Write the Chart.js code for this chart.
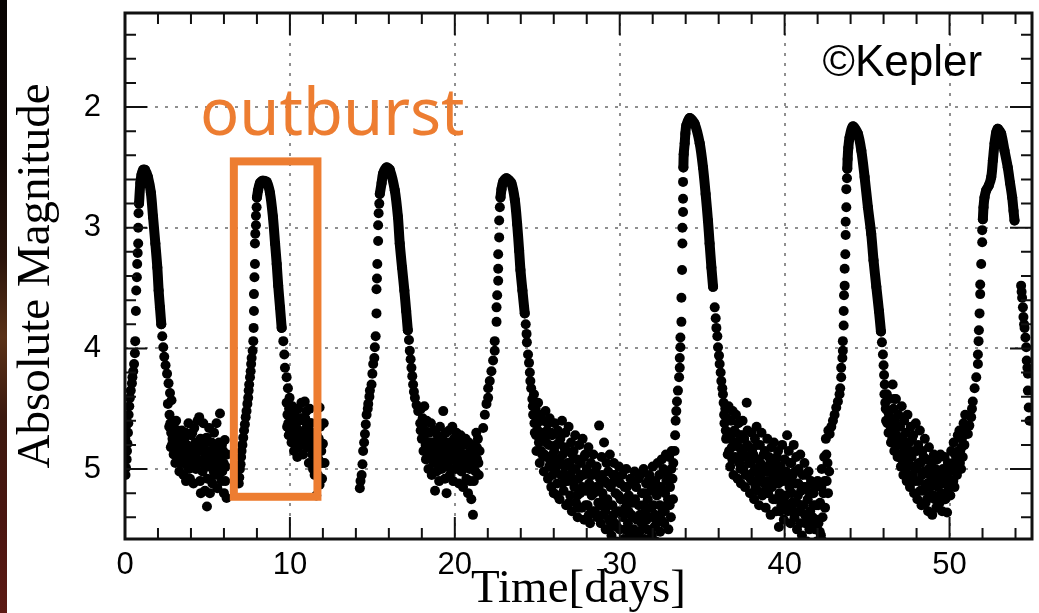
<!DOCTYPE html>
<html><head><meta charset="utf-8">
<script src="https://cdn.jsdelivr.net/npm/chart.js@4.4.1/dist/chart.umd.min.js"></script>
<style>
html,body{margin:0;padding:0;background:#fff;overflow:hidden}
#wrap{position:relative;width:1039px;height:613px;background:#fff}
canvas{position:absolute;left:0;top:0}
#strip{position:absolute;left:0;top:0;width:7px;height:613px;
background:linear-gradient(to bottom,#070302 0%,#120805 25%,#2a140b 42%,#5a3218 55%,#3c1a10 68%,#4a1510 85%,#5c1a14 100%)}
</style></head><body>
<div id="wrap"><canvas id="c" width="1039" height="613"></canvas><div id="strip"></div></div>
<script>
// ---- axis ticks ----
const xTickValues = [0, 10, 20, 30, 40, 50];
const yTickValues = [2, 3, 4, 5];

// ---- outburst 1 ----
const rise1 = [[0.02,4.75],[0.03,5.05],[0.05,4.65],[0.06,4.99],[0.1,4.92],[0.12,4.85],[0.15,4.79],[0.18,4.7],[0.2,4.62],[0.22,4.55],[0.26,4.48],[0.3,4.41],[0.35,4.35],[0.42,4.29],[0.45,4.24],[0.5,4.19],[0.55,4.13],[0.6,4.04],[0.62,3.94],[0.66,3.69],[0.68,3.52],[0.72,3.41],[0.74,3.30],[0.77,3.21],[0.8,3.13],[0.8,3.0],[0.82,2.88]];
const crest1 = [[0.85,2.8],[0.93,2.63],[1.0,2.56],[1.1,2.52],[1.21,2.52],[1.39,2.58],[1.57,2.71],[1.7,2.91],[1.84,3.13],[1.96,3.33],[2.04,3.52],[2.12,3.66],[2.2,3.8]];
const fall1 = [[2.26,3.9],[2.32,3.99],[2.38,4.07],[2.46,4.14],[2.55,4.21],[2.64,4.29],[2.73,4.37],[2.82,4.43]];
const quiet1 = [[2.6,4.46],[2.7,4.55],[2.75,4.62],[2.8,4.7],[2.85,4.8],[2.9,4.66],[2.95,4.88],[3.0,4.75],[3.05,4.95],[3.1,4.6],[3.15,4.82],[3.2,4.9],[3.25,4.7],[3.3,5.02],[3.35,4.78],[3.4,4.95],[3.45,4.68],[3.5,4.85],[3.55,5.05],[3.6,4.75],[3.65,4.92],[3.7,5.1],[3.75,4.8],[3.8,4.98],[3.85,4.62],[3.9,4.86],[3.94,5.08],[4.0,4.72],[4.05,4.95],[4.1,4.82],[4.15,5.12],[4.2,4.66],[4.25,4.9],[4.3,5.0],[4.4,4.6],[4.45,4.78],[4.5,4.57],[4.55,5.1],[4.6,5.2],[4.65,4.85],[4.7,5.02],[4.75,4.62],[4.8,4.8],[4.85,5.18],[4.9,4.95],[4.95,4.74],[4.97,5.31],[5.0,5.08],[5.05,4.86],[5.1,4.66],[5.15,5.2],[5.2,4.98],[5.25,4.78],[5.3,5.12],[5.35,4.9],[5.4,4.7],[5.45,5.05],[5.5,4.84],[5.55,4.62],[5.6,5.16],[5.65,4.95],[5.7,4.78],[5.76,4.54],[5.8,4.9],[5.85,5.1],[5.9,5.02],[5.95,4.85],[6.0,5.2],[6.05,4.76],[6.1,4.98],[6.16,5.24],[6.2,4.88]];
const quiet1b = [[2.68,4.65],[2.78,4.82],[2.88,4.75],[2.98,4.62],[3.08,4.72],[3.18,4.68],[3.28,4.85],[3.38,4.7],[3.48,4.95],[3.58,4.88],[3.68,4.7],[3.78,4.9],[3.88,5.0],[3.98,4.85],[4.08,4.7],[4.18,4.98],[4.28,4.78],[4.38,4.92],[4.48,4.85],[4.58,4.75],[4.68,4.95],[4.78,4.92],[4.88,4.88],[4.98,4.98],[5.08,4.9],[5.18,4.85],[5.28,4.95],[5.38,5.02],[5.48,4.95],[5.58,4.85],[5.68,5.05],[5.78,4.98],[5.88,4.8],[5.98,4.95],[6.08,5.1]];

// ---- outburst 2 (boxed) ----
const rise2 = [[6.9,5.12],[6.93,5.07],[6.97,5.0],[7.01,4.96],[7.04,4.9],[7.07,4.85],[7.12,4.8],[7.17,4.74],[7.22,4.68],[7.27,4.63],[7.32,4.57],[7.37,4.52],[7.42,4.46],[7.47,4.41],[7.5,4.35],[7.53,4.3],[7.58,4.24],[7.62,4.19],[7.65,4.13],[7.68,4.08],[7.74,4.02],[7.78,3.94],[7.8,3.83],[7.82,3.69],[7.82,3.55],[7.85,3.41],[7.88,3.3],[7.88,3.13],[7.9,3.05],[7.94,2.98],[7.94,2.9],[7.98,2.83]];
const crest2 = [[8.0,2.75],[8.07,2.69],[8.18,2.63],[8.36,2.61],[8.59,2.62],[8.79,2.71],[8.97,2.91],[9.1,3.13],[9.2,3.3],[9.29,3.48],[9.4,3.66],[9.5,3.83]];
const fall2 = [[9.6,3.94],[9.66,4.05],[9.7,4.16],[9.8,4.24],[9.88,4.33],[9.98,4.41]];
const quiet2 = [[9.8,4.45],[9.85,4.55],[9.9,4.62],[9.95,4.5],[10.0,4.7],[10.05,4.58],[10.1,4.78],[10.15,4.48],[10.2,4.65],[10.25,4.85],[10.3,4.55],[10.35,4.72],[10.4,4.62],[10.45,4.9],[10.5,4.5],[10.55,4.68],[10.6,4.78],[10.65,4.58],[10.7,4.45],[10.75,4.72],[10.8,4.88],[10.85,4.6],[10.9,4.44],[10.95,4.7],[11.0,4.52],[11.05,4.82],[11.1,4.65],[11.15,4.95],[11.2,4.5],[11.25,4.75],[11.3,4.62],[11.35,4.88],[11.4,5.0],[11.45,4.7],[11.5,5.05],[11.55,4.8],[11.6,5.22],[11.65,4.9],[11.7,5.05],[11.75,4.75],[11.8,5.13],[11.8,4.49],[11.85,4.95],[11.9,4.85],[11.95,5.08],[12.0,4.79],[12.05,4.62],[12.1,4.95]];
const quiet2b = [[9.83,4.65],[9.93,4.72],[10.03,4.62],[10.13,4.7],[10.23,4.6],[10.33,4.8],[10.43,4.75],[10.53,4.82],[10.63,4.7],[10.73,4.58],[10.83,4.75],[10.93,4.58],[11.03,4.65],[11.13,4.8],[11.23,4.62],[11.33,4.75],[11.43,4.85],[11.53,4.95],[11.63,4.72],[11.73,4.92],[11.83,4.65],[11.93,4.95]];

// ---- outburst 3 ----
const rise3 = [[14.24,5.16],[14.28,5.1],[14.35,5.05],[14.4,4.96],[14.44,4.85],[14.5,4.78],[14.55,4.71],[14.6,4.63],[14.65,4.55],[14.72,4.5],[14.75,4.46],[14.82,4.4],[14.85,4.35],[14.95,4.3],[15.0,4.21],[15.05,4.13],[15.12,4.08],[15.15,3.99],[15.2,3.9],[15.25,3.71],[15.25,3.51],[15.28,3.42],[15.3,3.3],[15.35,3.11],[15.35,2.98],[15.38,2.88],[15.42,2.8]];
const crest3 = [[15.45,2.72],[15.56,2.63],[15.65,2.55],[15.86,2.5],[16.06,2.52],[16.36,2.69],[16.55,2.91],[16.66,3.13],[16.8,3.33],[16.94,3.52],[17.05,3.69],[17.15,3.85]];
const fall3 = [[17.22,3.93],[17.27,4.02],[17.32,4.09],[17.37,4.16],[17.42,4.23],[17.47,4.3],[17.52,4.36],[17.58,4.41],[17.68,4.47],[17.78,4.52]];
const quiet3 = [[17.9,4.62],[17.95,4.5],[18.0,4.75],[18.05,4.58],[18.1,4.85],[18.15,4.48],[18.2,4.68],[18.25,4.92],[18.3,4.6],[18.35,4.8],[18.4,5.0],[18.45,4.7],[18.5,4.88],[18.55,4.62],[18.6,5.05],[18.65,4.78],[18.7,4.95],[18.75,4.68],[18.8,5.18],[18.85,4.85],[18.9,5.02],[18.95,4.72],[19.0,4.92],[19.05,5.1],[19.1,4.65],[19.15,4.82],[19.2,5.0],[19.25,4.75],[19.3,4.52],[19.35,4.9],[19.4,5.08],[19.45,4.7],[19.5,5.2],[19.55,4.85],[19.6,4.98],[19.65,4.68],[19.7,5.05],[19.75,4.8],[19.8,4.92],[19.85,4.65],[19.9,5.1],[19.95,4.75],[20.0,4.88],[20.05,5.0],[20.1,4.7],[20.15,4.95],[20.2,4.78],[20.25,5.12],[20.3,4.85],[20.35,4.72],[20.4,5.02],[20.45,4.9],[20.5,5.15],[20.55,4.8],[20.6,4.98],[20.65,4.75],[20.7,5.08],[20.75,4.88],[20.8,5.2],[20.85,4.78],[20.9,5.0],[20.95,4.85],[21.0,5.25],[21.05,4.95],[21.1,5.38],[21.15,5.1],[21.2,4.8],[21.25,5.02],[21.3,4.7],[21.35,4.92],[21.4,4.75],[21.45,5.05],[21.5,4.85]];
const quiet3b = [[17.93,4.68],[18.03,4.65],[18.13,4.75],[18.23,4.8],[18.33,4.7],[18.43,4.85],[18.53,4.78],[18.63,4.88],[18.73,4.85],[18.83,4.95],[18.93,4.82],[19.03,4.78],[19.13,4.95],[19.23,4.88],[19.33,4.8],[19.43,4.98],[19.53,4.92],[19.63,4.78],[19.73,4.9],[19.83,5.0],[19.93,4.85],[20.03,4.78],[20.13,4.85],[20.23,4.92],[20.33,4.98],[20.43,4.8],[20.53,4.95],[20.63,4.88],[20.73,4.95],[20.83,4.9],[20.93,5.1],[21.03,4.85],[21.13,4.95],[21.23,4.9],[21.33,4.82],[21.43,4.95]];

// ---- outburst 4 ----
const rise4 = [[21.72,4.66],[21.82,4.55],[21.92,4.46],[22.02,4.41],[22.02,4.33],[22.12,4.27],[22.22,4.19],[22.32,4.1],[22.42,4.02],[22.42,3.94],[22.53,3.78],[22.53,3.66],[22.57,3.56],[22.63,3.44],[22.63,3.34],[22.63,3.22],[22.69,3.08],[22.69,2.94],[22.73,2.83]];
const crest4 = [[22.77,2.75],[22.83,2.68],[22.93,2.62],[23.13,2.59],[23.43,2.63],[23.64,2.77],[23.78,2.97],[23.9,3.19],[23.98,3.35],[24.1,3.52],[24.24,3.71]];
const fall4 = [[24.3,3.8],[24.35,3.88],[24.37,3.95],[24.44,4.05],[24.5,4.12],[24.55,4.2],[24.58,4.27],[24.63,4.33]];
const quiet4 = [[24.7,4.42],[24.75,4.55],[24.8,4.38],[24.85,4.7],[24.9,4.5],[24.95,4.85],[25.0,4.62],[25.05,4.45],[25.1,4.78],[25.15,4.95],[25.2,4.55],[25.25,4.7],[25.3,4.88],[25.35,4.6],[25.4,5.02],[25.45,4.75],[25.5,4.52],[25.55,4.9],[25.6,4.68],[25.65,5.08],[25.7,4.8],[25.75,4.58],[25.8,4.95],[25.85,5.15],[25.9,4.72],[25.95,4.88],[26.0,5.2],[26.05,4.62],[26.1,5.0],[26.15,4.8],[26.2,5.12],[26.25,4.68],[26.3,4.92],[26.35,5.25],[26.4,4.75],[26.45,5.05],[26.5,4.6],[26.55,4.88],[26.6,5.18],[26.65,4.98],[26.7,4.7],[26.75,5.3],[26.8,4.85],[26.85,5.1],[26.9,4.65],[26.95,4.95],[27.0,5.22],[27.05,4.78],[27.1,5.35],[27.15,5.0],[27.2,4.85],[27.25,5.15],[27.3,4.72],[27.35,5.28],[27.4,4.92],[27.45,5.4],[27.5,5.08],[27.55,4.8],[27.6,5.2],[27.65,4.95],[27.7,5.32],[27.75,4.75],[27.8,5.05],[27.85,5.42],[27.9,4.88],[27.95,5.18],[28.0,5.0],[28.05,5.3],[28.1,4.82],[28.15,5.12],[28.2,5.45],[28.25,4.95],[28.3,5.22],[28.35,5.05],[28.4,4.88],[28.5,5.35],[28.55,5.15],[28.6,4.98],[28.7,5.28],[28.75,4.64],[28.8,5.08],[28.85,5.45],[28.9,4.9],[28.95,5.2],[29.0,5.38],[29.05,4.78],[29.1,5.1],[29.15,5.5],[29.2,4.95],[29.25,5.25],[29.3,5.02],[29.35,5.42],[29.4,4.88],[29.45,5.15],[29.5,5.55],[29.55,5.3],[29.6,5.05],[29.65,4.95],[29.7,5.45],[29.75,5.2],[29.8,5.6],[29.85,5.1],[29.9,5.35],[29.95,4.98],[30.0,5.5],[30.05,5.25],[30.1,5.65],[30.15,5.05],[30.2,5.4],[30.25,5.58],[30.3,5.15],[30.35,5.32],[30.4,5.0],[30.45,5.62],[30.5,5.45],[30.55,5.22],[30.6,5.55],[30.65,5.08],[30.7,5.38],[30.75,5.68],[30.8,5.28],[30.85,5.5],[30.9,5.02],[30.95,5.6],[31.0,5.15],[31.05,5.42],[31.1,5.7],[31.15,5.3],[31.2,5.52],[31.25,5.05],[31.3,5.62],[31.35,5.2],[31.4,5.45],[31.45,5.0],[31.5,5.58],[31.55,5.35],[31.6,5.12],[31.65,5.5],[31.7,5.25],[31.75,5.65],[31.8,5.05],[31.85,5.4],[31.9,5.18],[31.95,5.55],[32.0,4.98],[32.05,5.3],[32.1,5.48],[32.15,5.1],[32.2,5.6],[32.25,5.22],[32.3,4.95],[32.35,5.4],[32.4,5.05],[32.45,5.52],[32.5,5.15],[32.55,4.92],[32.6,5.35],[32.65,5.0],[32.7,5.45],[32.75,5.2],[32.8,4.88],[32.85,5.3],[32.9,5.05],[32.95,5.5],[33.0,4.9],[33.05,5.15],[33.1,5.4],[33.15,4.85],[33.2,5.08],[33.25,4.95]];
const quiet4b = [[24.73,4.48],[24.83,4.62],[24.93,4.72],[25.03,4.68],[25.13,4.58],[25.23,4.85],[25.33,4.72],[25.43,4.88],[25.53,4.78],[25.63,4.62],[25.73,4.98],[25.83,4.7],[25.93,5.05],[26.03,4.85],[26.13,4.95],[26.23,5.22],[26.33,4.78],[26.43,4.95],[26.53,5.12],[26.63,4.82],[26.73,5.05],[26.83,4.95],[26.93,5.28],[27.03,5.05],[27.13,4.88],[27.23,5.1],[27.33,5.0],[27.43,5.22],[27.53,5.32],[27.63,5.05],[27.73,5.15],[27.83,4.9],[27.93,5.3],[28.03,5.15],[28.13,5.38],[28.23,5.05],[28.33,5.35],[28.43,5.2],[28.53,5.02],[28.63,5.4],[28.73,5.15],[28.83,5.3],[28.93,5.05],[29.03,5.25],[29.13,5.35],[29.23,5.12],[29.33,5.3],[29.43,5.48],[29.53,5.12],[29.63,5.38],[29.73,5.05],[29.83,5.48],[29.93,5.22],[30.03,5.12],[30.13,5.35],[30.23,5.25],[30.33,5.5],[30.43,5.15],[30.53,5.35],[30.63,5.28],[30.73,5.12],[30.83,5.4],[30.93,5.25],[31.03,5.55],[31.13,5.08],[31.23,5.38],[31.33,5.45],[31.43,5.3],[31.53,5.2],[31.63,5.42],[31.73,5.1],[31.83,5.6],[31.93,5.32],[32.03,5.15],[32.13,5.38],[32.23,5.45],[32.33,5.15],[32.43,5.3],[32.53,5.42],[32.63,5.18],[32.73,5.35],[32.83,5.1],[32.93,5.25],[33.03,5.3],[33.13,5.0],[33.23,5.25]];

// ---- outburst 5 ----
const rise5 = [[33.33,4.85],[33.36,4.72],[33.39,4.6],[33.43,4.52],[33.47,4.44],[33.53,4.35],[33.6,4.24],[33.64,4.16],[33.64,4.08],[33.68,3.99],[33.68,3.91],[33.74,3.78],[33.74,3.58],[33.78,3.35],[33.8,3.13],[33.8,3.0],[33.84,2.87],[33.84,2.76],[33.84,2.62]];
const crest5 = [[33.86,2.5],[33.88,2.39],[33.94,2.3],[33.98,2.22],[34.04,2.15],[34.24,2.09],[34.55,2.14],[34.85,2.3],[35.05,2.5],[35.21,2.72],[35.35,2.94],[35.45,3.13],[35.56,3.33],[35.66,3.49]];
const fall5 = [[35.76,3.66],[35.82,3.75],[35.86,3.83],[35.92,3.9],[35.96,3.99],[36.02,4.06],[36.06,4.13],[36.12,4.2],[36.16,4.27],[36.22,4.33],[36.26,4.38]];
const quiet5 = [[36.3,4.45],[36.35,4.62],[36.4,4.5],[36.45,4.75],[36.5,4.58],[36.55,4.88],[36.6,4.48],[36.65,4.7],[36.7,4.98],[36.75,4.6],[36.8,4.82],[36.85,4.52],[36.9,5.05],[36.95,4.68],[37.0,4.9],[37.05,4.55],[37.1,4.78],[37.15,5.08],[37.2,4.62],[37.25,4.95],[37.3,4.72],[37.35,5.12],[37.4,4.85],[37.45,4.6],[37.5,5.0],[37.55,4.75],[37.6,5.15],[37.65,4.9],[37.7,4.45],[37.75,4.68],[37.8,5.05],[37.85,4.82],[37.9,5.2],[37.95,4.95],[38.0,4.7],[38.05,5.1],[38.1,4.88],[38.15,5.25],[38.2,4.75],[38.25,5.0],[38.3,4.65],[38.35,5.18],[38.4,4.92],[38.45,5.3],[38.5,4.8],[38.55,5.05],[38.6,4.7],[38.65,5.22],[38.7,4.98],[38.75,5.12],[38.8,4.85],[38.85,5.32],[38.9,5.02],[38.95,4.75],[39.0,5.2],[39.05,4.9],[39.1,5.1],[39.15,5.38],[39.2,4.82],[39.25,5.0],[39.3,5.25],[39.35,4.78],[39.4,5.12],[39.45,4.95],[39.5,5.35],[39.55,5.05],[39.6,4.85],[39.65,5.48],[39.7,5.2],[39.75,4.98],[39.8,5.3],[39.85,4.8],[39.9,5.1],[39.95,5.42],[40.0,4.92],[40.05,5.22],[40.1,5.02],[40.15,4.72],[40.2,5.35],[40.25,4.85],[40.3,5.15],[40.35,5.45],[40.4,4.95],[40.45,5.28],[40.5,5.05],[40.55,4.8],[40.6,5.4],[40.65,5.12],[40.7,4.9],[40.75,5.5],[40.8,5.22],[40.85,5.0],[40.9,5.35],[40.95,4.88],[41.0,5.18],[41.05,5.55],[41.1,5.05],[41.15,5.3],[41.2,4.95],[41.25,5.45],[41.3,5.15],[41.35,5.6],[41.4,5.25],[41.45,5.02],[41.5,5.5],[41.55,5.35],[41.6,5.1],[41.65,5.62],[41.7,5.4],[41.75,5.2],[41.8,5.68],[41.85,5.5],[41.9,5.3],[41.95,5.6],[42.0,5.1],[42.05,5.45],[42.1,5.7],[42.15,5.28],[42.2,5.55],[42.25,5.0],[42.3,5.4],[42.35,5.2],[42.4,4.9],[42.45,5.32],[42.5,4.75],[42.55,5.1],[42.6,4.95],[42.65,4.68],[42.7,5.02]];
const quiet5b = [[36.33,4.55],[36.43,4.68],[36.53,4.72],[36.63,4.85],[36.73,4.75],[36.83,4.92],[36.93,4.8],[37.03,4.7],[37.13,4.92],[37.23,4.82],[37.33,5.0],[37.43,4.72],[37.53,4.88],[37.63,5.05],[37.73,4.8],[37.83,4.95],[37.93,5.08],[38.03,4.85],[38.13,5.02],[38.23,5.15],[38.33,4.8],[38.43,5.08],[38.53,4.95],[38.63,5.1],[38.73,4.88],[38.83,5.18],[38.93,5.1],[39.03,5.02],[39.13,4.95],[39.23,5.15],[39.33,5.05],[39.43,5.25],[39.53,4.9],[39.63,5.12],[39.73,5.35],[39.83,5.02],[39.93,5.25],[40.03,5.08],[40.13,5.3],[40.23,5.1],[40.33,4.95],[40.43,5.2],[40.53,5.35],[40.63,5.02],[40.73,5.28],[40.83,5.12],[40.93,5.45],[41.03,5.3],[41.13,5.15],[41.23,5.38],[41.33,5.05],[41.43,5.4],[41.53,5.2],[41.63,5.45],[41.73,5.3],[41.83,5.15],[41.93,5.42],[42.03,5.3],[42.13,5.52],[42.23,5.15],[42.33,5.6],[42.43,5.1],[42.53,4.88],[42.63,5.2]];

// ---- outburst 6 ----
const rise6 = [[42.73,4.71],[42.83,4.65],[42.93,4.6],[43.03,4.55],[43.13,4.49],[43.23,4.44],[43.33,4.38],[43.37,4.33],[43.43,4.24],[43.43,4.16],[43.5,4.08],[43.53,4.02],[43.53,3.94],[43.58,3.81],[43.58,3.69],[43.6,3.56],[43.64,3.48],[43.64,3.34],[43.68,3.22],[43.7,3.06],[43.7,2.95],[43.74,2.83],[43.74,2.68],[43.78,2.59]];
const crest6 = [[43.8,2.51],[43.82,2.43],[43.86,2.34],[43.94,2.25],[44.14,2.16],[44.44,2.22],[44.65,2.36],[44.85,2.58],[45.05,2.83],[45.25,3.05],[45.39,3.27],[45.56,3.49],[45.72,3.69],[45.84,3.86]];
const fall6 = [[45.9,3.95],[45.96,4.05],[46.0,4.14],[46.03,4.22],[46.07,4.3]];
const quiet6 = [[46.05,4.38],[46.1,4.45],[46.15,4.6],[46.2,4.38],[46.25,4.52],[46.3,4.7],[46.35,4.42],[46.4,4.58],[46.45,4.78],[46.55,4.3],[46.55,4.65],[46.6,4.5],[46.65,4.85],[46.7,4.6],[46.75,4.42],[46.8,4.72],[46.85,4.9],[46.9,4.55],[46.95,4.8],[47.0,4.65],[47.05,4.98],[47.1,4.48],[47.15,4.75],[47.2,5.05],[47.25,4.6],[47.3,4.88],[47.35,4.7],[47.4,5.1],[47.45,4.55],[47.5,4.95],[47.55,4.78],[47.6,5.15],[47.65,4.65],[47.7,4.9],[47.75,5.05],[47.8,4.72],[47.85,5.2],[47.9,4.85],[47.95,4.62],[48.0,5.0],[48.05,5.25],[48.1,4.8],[48.15,5.1],[48.2,4.68],[48.25,4.95],[48.3,5.3],[48.35,4.85],[48.4,5.18],[48.45,5.02],[48.5,4.75],[48.55,5.28],[48.6,4.92],[48.65,5.12],[48.7,5.35],[48.75,4.82],[48.8,5.05],[48.85,5.22],[48.9,4.95],[48.95,5.38],[49.0,5.1],[49.05,4.88],[49.1,5.25],[49.15,5.0],[49.2,5.32],[49.25,4.92],[49.3,5.15],[49.35,5.05],[49.4,5.28],[49.45,4.88],[49.5,5.2],[49.55,5.35],[49.6,5.0],[49.65,5.12],[49.7,4.9],[49.75,5.25],[49.8,5.05],[49.85,5.36],[49.9,4.95],[49.95,5.15],[50.0,5.02],[50.05,5.22],[50.1,4.85],[50.15,5.1],[50.2,4.95],[50.25,4.78],[50.3,5.15],[50.35,5.0],[50.4,4.88],[50.45,5.05],[50.5,4.72],[50.55,4.95],[50.6,4.68],[50.65,4.85],[50.7,5.0],[50.75,4.75],[50.8,4.9],[50.85,4.62],[50.9,4.8],[50.95,4.55],[51.0,4.7]];
const quiet6b = [[46.13,4.5],[46.23,4.62],[46.33,4.55],[46.43,4.68],[46.53,4.75],[46.63,4.42],[46.73,4.78],[46.83,4.65],[46.93,4.88],[47.03,4.78],[47.13,4.92],[47.23,4.82],[47.33,5.0],[47.43,4.85],[47.53,5.05],[47.63,4.85],[47.73,4.75],[47.83,4.98],[47.93,5.1],[48.03,4.85],[48.13,4.95],[48.23,5.18],[48.33,5.05],[48.43,4.9],[48.53,5.15],[48.63,5.25],[48.73,5.0],[48.83,5.15],[48.93,5.05],[49.03,5.22],[49.13,5.12],[49.23,5.05],[49.33,5.25],[49.43,5.1],[49.53,5.05],[49.63,5.25],[49.73,5.12],[49.83,5.2],[49.93,5.08],[50.03,5.12],[50.13,4.98],[50.23,5.1],[50.33,4.88],[50.43,5.0],[50.53,4.85],[50.63,4.95],[50.73,4.82],[50.83,4.72],[50.93,4.65]];

// ---- outburst 7 ----
const rise7 = [[51.11,4.71],[51.2,4.64],[51.31,4.57],[51.36,4.5],[51.41,4.44],[51.52,4.33],[51.62,4.24],[51.72,4.13],[51.72,4.05],[51.76,3.94],[51.78,3.85],[51.82,3.71],[51.86,3.55],[51.86,3.47],[51.92,3.3],[51.98,3.12],[51.98,3.02]];
const crest7 = [[52.02,2.93],[52.06,2.83],[52.12,2.75],[52.22,2.69],[52.38,2.65],[52.53,2.58],[52.63,2.44],[52.73,2.3],[52.83,2.21],[52.93,2.18],[53.13,2.22],[53.33,2.36],[53.53,2.5],[53.67,2.63],[53.8,2.75],[53.88,2.86],[53.94,2.94]];
const edge = [[54.34,3.48],[54.37,3.53],[54.4,3.58],[54.45,3.66],[54.48,3.74],[54.52,3.8],[54.55,3.83],[54.6,3.91],[54.65,3.99],[54.68,4.1],[54.72,4.16],[54.75,4.21],[54.75,4.35],[54.8,4.49],[54.85,4.6]];

// ---- annotation (data coordinates) ----
const boxT = [6.6, 11.67];
const boxM = [2.45, 5.23];

const crests = [crest1, crest2, crest3, crest4, crest5, crest6, crest7];
const scatters = [rise1, fall1, quiet1, quiet1b, rise2, fall2, quiet2, quiet2b, rise3, fall3, quiet3, quiet3b, rise4, fall4, quiet4, quiet4b, rise5, fall5, quiet5, quiet5b, rise6, fall6, quiet6, quiet6b, rise7, edge];
const toXY = a => a.map(([x, y]) => ({x, y}));
const R = 5;

const datasets = [
  ...crests.map(a => ({data: toXY(a), showLine: true, borderColor: '#000', borderWidth: 10, borderCapStyle: 'round', borderJoinStyle: 'round', tension: 0.3, pointRadius: R, pointBackgroundColor: '#000', pointBorderWidth: 0})),
  ...scatters.map(a => ({data: toXY(a), showLine: false, pointRadius: R, pointBackgroundColor: '#000', pointBorderWidth: 0}))
];

const framePlugin = {
  id: 'frame',
  afterDatasetsDraw(chart) {
    const {ctx, chartArea: a, scales: {x, y}} = chart;
    ctx.save();
    ctx.strokeStyle = '#111';
    ctx.lineWidth = 2;
    ctx.beginPath();
    for (let v = 0; v <= 55; v += 2) {
      const px = x.getPixelForValue(v);
      const L = (v % 10 === 0) ? 22 : 11;
      ctx.moveTo(px, a.bottom); ctx.lineTo(px, a.bottom - L);
      ctx.moveTo(px, a.top); ctx.lineTo(px, a.top + L);
    }
    for (let k = 7; k <= 28; k++) {
      const v = k / 5;
      const py = y.getPixelForValue(v);
      if (py < a.top || py > a.bottom) continue;
      const L = (k % 5 === 0) ? 22 : 11;
      ctx.moveTo(a.left, py); ctx.lineTo(a.left + L, py);
      ctx.moveTo(a.right, py); ctx.lineTo(a.right - L, py);
    }
    ctx.stroke();
    ctx.lineWidth = 3;
    ctx.strokeRect(a.left, a.top, a.right - a.left, a.bottom - a.top);
    // orange outburst box
    const l = x.getPixelForValue(boxT[0]), r = x.getPixelForValue(boxT[1]);
    const t = y.getPixelForValue(boxM[0]), b = y.getPixelForValue(boxM[1]);
    ctx.strokeStyle = '#ED7D31';
    ctx.lineWidth = 8;
    ctx.lineJoin = 'miter';
    ctx.strokeRect(l, t, r - l, b - t);
    // texts
    ctx.fillStyle = '#ED7D31';
    ctx.textBaseline = 'alphabetic';
    ctx.textAlign = 'left';
    ctx.font = '65px "Noto Sans"';
    ctx.fillText('outburst', x.getPixelForValue(4.55), y.getPixelForValue(2.23));
    ctx.fillStyle = '#000';
    ctx.font = '44px "Liberation Sans"';
    ctx.fillText('\u00A9Kepler', x.getPixelForValue(42.3), y.getPixelForValue(1.74));
    ctx.restore();
  }
};

new Chart(document.getElementById('c'), {
  type: 'scatter',
  data: {datasets},
  options: {
    responsive: false,
    animation: false,
    devicePixelRatio: 1,
    layout: {padding: {top: 13, right: 7, left: 0, bottom: 0}},
    plugins: {legend: {display: false}, tooltip: {enabled: false}},
    scales: {
      x: {
        type: 'linear', min: 0, max: 55,
        afterFit: s => { s.height = 74; s.paddingLeft = 0; s.paddingRight = 0; },
        afterBuildTicks: s => { s.ticks = xTickValues.map(v => ({value: v})); },
        grid: {drawTicks: false, color: '#8f8f8f', lineWidth: 2},
        border: {display: false, dash: [3, 7]},
        ticks: {padding: 8, color: '#000', font: {family: 'Liberation Sans', size: 31}, maxRotation: 0},
        title: {display: true, text: 'Time[days]', color: '#000', font: {family: 'Liberation Serif', size: 47, lineHeight: 1}, padding: {top: 0, bottom: 0}}
      },
      y: {
        type: 'linear', reverse: true, min: 1.22, max: 5.58,
        afterFit: s => { s.width = 125; s.paddingTop = 0; s.paddingBottom = 0; },
        afterBuildTicks: s => { s.ticks = yTickValues.map(v => ({value: v})); },
        grid: {drawTicks: false, color: '#8f8f8f', lineWidth: 2},
        border: {display: false, dash: [3, 7]},
        ticks: {padding: 24, color: '#000', font: {family: 'Liberation Sans', size: 31}},
        title: {display: true, text: 'Absolute Magnitude', color: '#000', font: {family: 'Liberation Serif', size: 47, lineHeight: 1}, padding: {top: 13, bottom: 0}}
      }
    }
  },
  plugins: [framePlugin]
});
</script>
</body></html>
